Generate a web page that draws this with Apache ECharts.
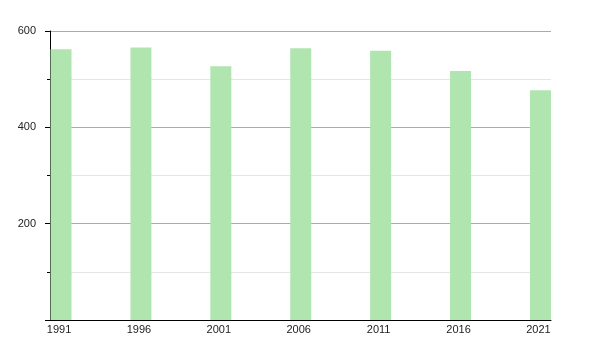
<!DOCTYPE html>
<html>
<head>
<meta charset="utf-8">
<script src="https://cdn.jsdelivr.net/npm/echarts@6/dist/echarts.min.js"></script>
<style>html,body{margin:0;padding:0;background:#fff}#c{width:600px;height:350px}</style>
</head>
<body>
<div id="c"></div>
<script>
const years = [1991, 1996, 2001, 2006, 2011, 2016, 2021];
const population = [562, 566, 527, 564, 559, 517, 477];
const yTicks = [0, 200, 400, 600];

const chart = echarts.init(document.getElementById('c'), null, {renderer: 'canvas'});
chart.setOption({
  animation: false,
  grid: {left: 50, right: 49, top: 31, bottom: 30},
  xAxis: {
    type: 'value',
    min: 1990.31,
    max: 2021.66,
    axisLine: {show: true, onZero: false, lineStyle: {color: '#000', width: 1}},
    axisTick: {show: false},
    splitLine: {show: false},
    axisLabel: {
      customValues: years,
      showMinLabel: true, showMaxLabel: true,
      color: '#222', fontSize: 11, fontFamily: 'Liberation Sans, Arial, sans-serif',
      margin: 4, padding: [0, 4, 0, 0],
      formatter: v => String(Math.round(v))
    }
  },
  yAxis: {
    type: 'value',
    min: 0, max: 600, interval: 200,
    axisLine: {show: true, lineStyle: {color: '#000', width: 1}},
    axisTick: {show: true, length: 5, lineStyle: {color: '#000'}},
    minorTick: {show: true, splitNumber: 2, length: 3, lineStyle: {color: '#000'}},
    splitLine: {show: true, lineStyle: {color: '#aaaaaa', width: 1}},
    minorSplitLine: {show: true, lineStyle: {color: '#e6e6e6', width: 1}},
    axisLabel: {
      color: '#222', fontSize: 11, fontFamily: 'Liberation Sans, Arial, sans-serif',
      margin: 14,
      formatter: v => (v === 0 ? '' : String(v))
    }
  },
  series: [{
    type: 'bar',
    data: years.map((y, i) => [y, population[i]]),
    barWidth: 21,
    itemStyle: {color: '#b0e5b0'}
  }]
});
</script>
</body>
</html>
